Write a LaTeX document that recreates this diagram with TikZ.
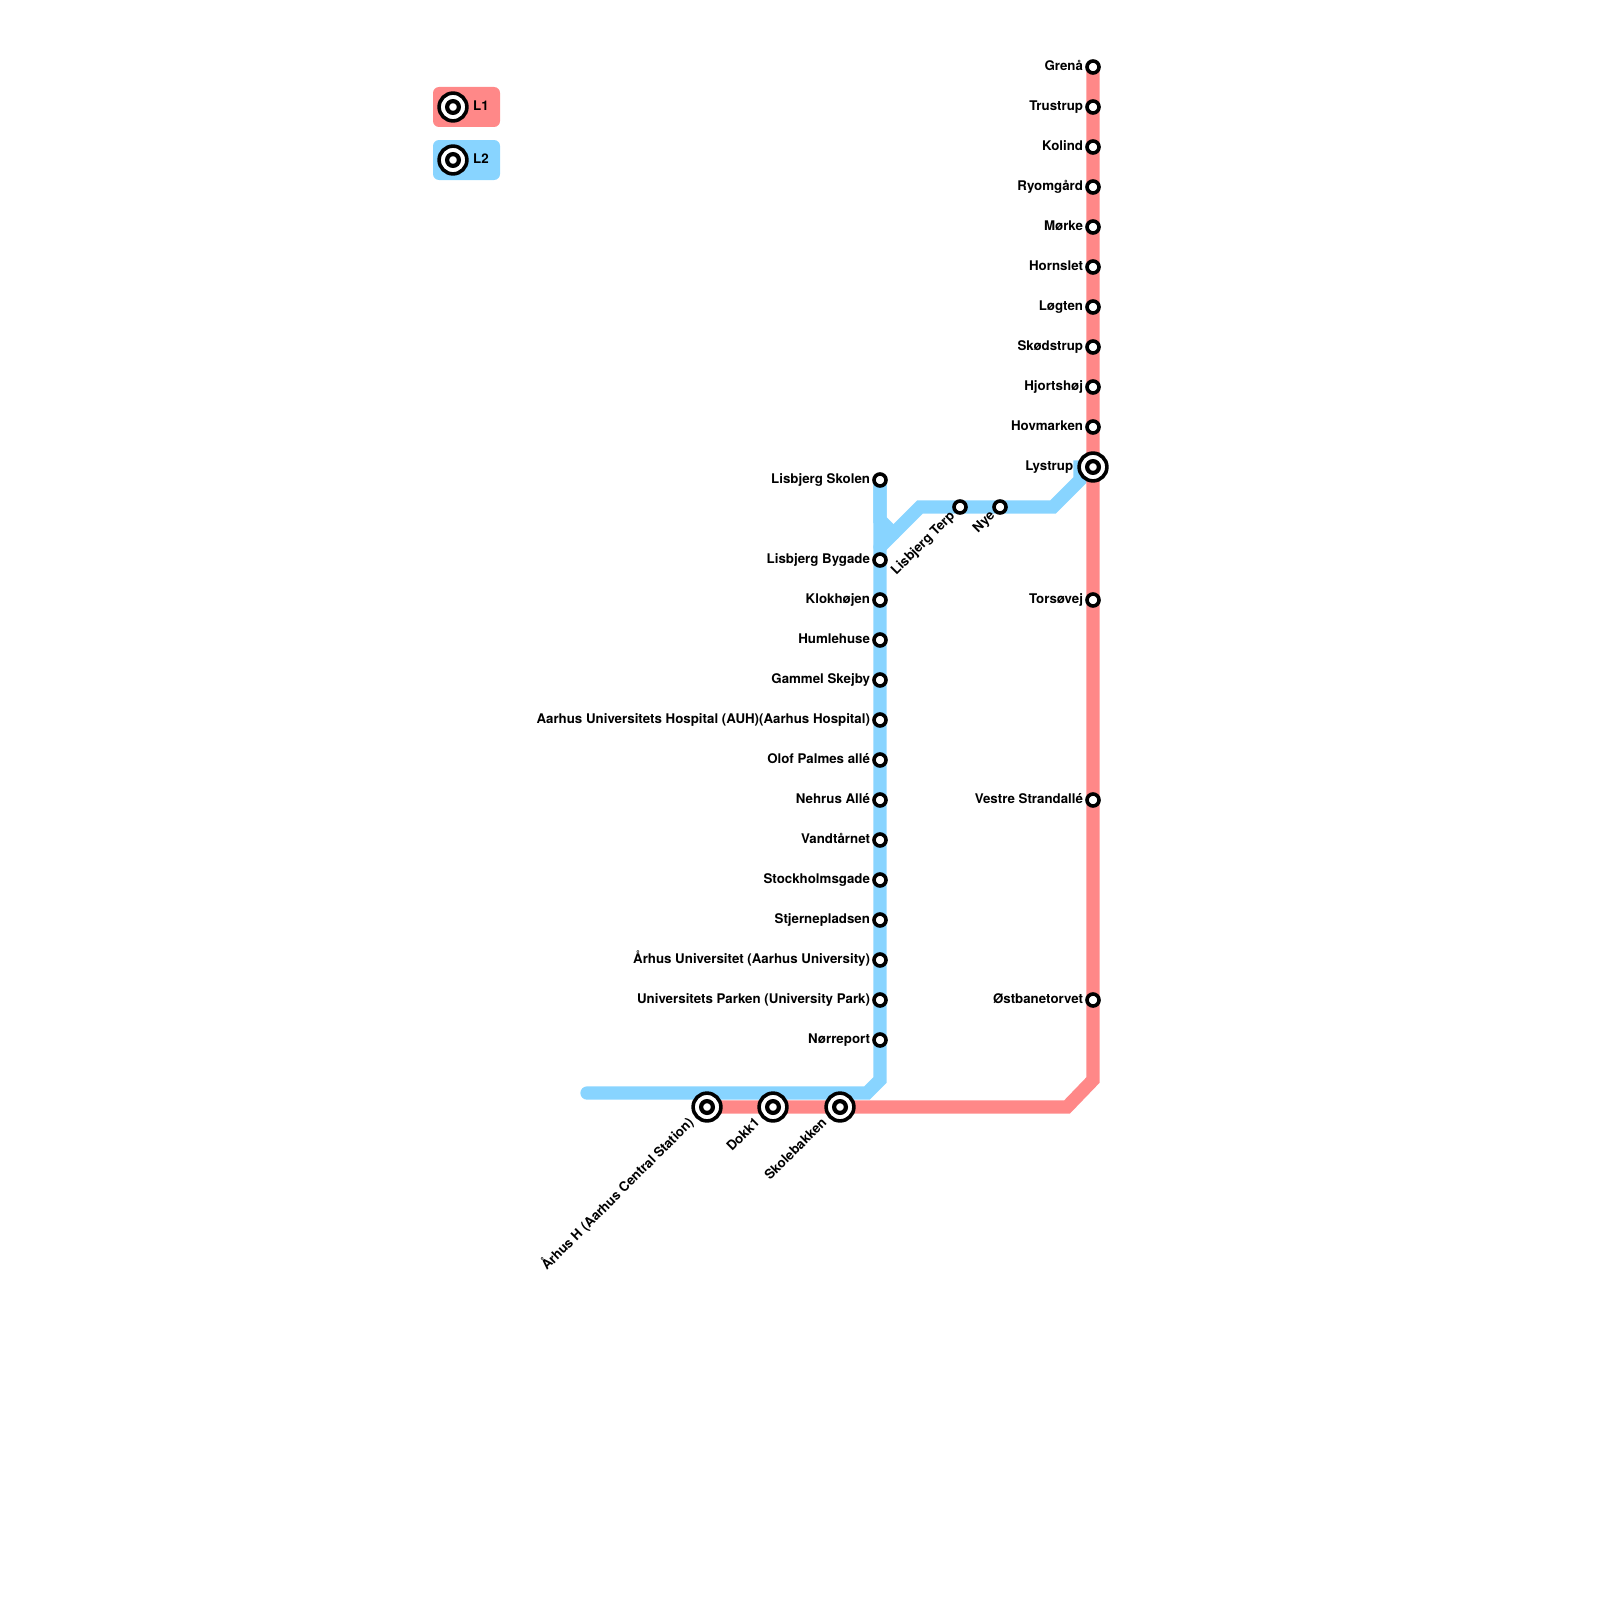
\documentclass[tikz,border=0pt]{standalone}
\usepackage{fontspec}
\setmainfont{TeX Gyre Heros}
\usepackage{tikz}
\usetikzlibrary{positioning}
\definecolor{linered}{HTML}{FF8888}
\definecolor{lineblue}{HTML}{88D4FF}

\begin{document}
\begin{tikzpicture}[x=1pt,y=-1pt,
        stn/.style={circle,draw=black,line width=3.6pt,fill=white,inner sep=0pt,minimum size=12pt},
        hub/.style={circle,draw=black,line width=3.6pt,fill=white,inner sep=0pt,minimum size=27.8pt},
        hubin/.style={circle,draw=black,line width=4.2pt,fill=white,inner sep=0pt,minimum size=11.8pt},
        lbl/.style={font=\bfseries\fontsize{13.3}{15}\selectfont,inner sep=0pt,text height=10pt,text depth=3pt,left=2pt of #1},
        lblrot/.style={font=\bfseries\fontsize{13.3}{15}\selectfont,inner sep=0pt,text height=10pt,text depth=3pt,rotate=45,anchor=east},
        legbox/.style={rounded corners=6pt,minimum width=67pt,minimum height=40pt,inner sep=0pt},
        legtxt/.style={font=\bfseries\fontsize{13.3}{15}\selectfont,inner sep=0pt},
        redline/.style={draw=linered,line width=13.3pt,line cap=round},
        blueline/.style={draw=lineblue,line width=13.3pt,line cap=round}]
        \useasboundingbox (0,0) rectangle (1600,1600);

        % legend
        \node[legbox,fill=linered]  (legred)  at (466.5,107) {};
        \node[legbox,fill=lineblue] (legblue) at (466.5,160) {};

        % bends
        \coordinate (redbendA) at (1093,1080);
        \coordinate (redbendB) at (1067,1107);
        \coordinate (bluebendA) at (880,1080);
        \coordinate (bluebendB) at (867,1093);
        \coordinate (blueend) at (587,1093);
        \coordinate (forkA) at (880,547);
        \coordinate (forkB) at (920,507);
        \coordinate (forkC) at (1053,507);
        \coordinate (forkD) at (1080,480);
        \coordinate (forkE) at (1080,467);
        \coordinate (spurA) at (880,520);
        \coordinate (spurB) at (893.5,533.5);

        % L1 stations
        \coordinate (grenapos) at (1093,67);
        \coordinate (lystruppos) at (1093,467);
        \coordinate (aarhuspos) at (707,1107);
        \coordinate (dokkpos) at (773,1107);
        \coordinate (skolepos) at (840,1107);

        % L2 line goes under L1
        \draw[blueline] (880,480) -- (spurA) -- (spurB);
        \draw[blueline] (880,480) -- (bluebendA) -- (bluebendB) -- (blueend);
        \draw[blueline] (forkA) -- (forkB) -- (forkC) -- (forkD) -- (forkE) -- (lystruppos);
        \draw[redline] (grenapos) -- (redbendA) -- (redbendB) -- (aarhuspos);

        % 1st column
        \node[stn] (grena)    at (1093,67)  {};
        \node[stn] (trustrup) at (1093,107) {};
        \node[stn] (kolind)   at (1093,147) {};
        \node[stn] (ryomgard) at (1093,187) {};
        \node[stn] (morke)    at (1093,227) {};
        \node[stn] (hornslet) at (1093,267) {};
        \node[stn] (logten)   at (1093,307) {};
        \node[stn] (skodstrup) at (1093,347) {};
        \node[stn] (hjortshoj) at (1093,387) {};
        \node[stn] (hovmarken) at (1093,427) {};
        \node[stn] (torsovej) at (1093,600) {};
        \node[stn] (vestre)   at (1093,800) {};
        \node[stn] (ostbane)  at (1093,1000) {};
        % 2nd column
        \node[stn] (lskolen)  at (880,480)  {};
        \node[stn] (lbygade)  at (880,560)  {};
        \node[stn] (klokhojen) at (880,600) {};
        \node[stn] (humlehuse) at (880,640) {};
        \node[stn] (gskejby)  at (880,680)  {};
        \node[stn] (auh)      at (880,720)  {};
        \node[stn] (olof)     at (880,760)  {};
        \node[stn] (nehrus)   at (880,800)  {};
        \node[stn] (vandtarnet) at (880,840) {};
        \node[stn] (stockholm) at (880,880) {};
        \node[stn] (stjerne)  at (880,920)  {};
        \node[stn] (auni)     at (880,960)  {};
        \node[stn] (upark)    at (880,1000) {};
        \node[stn] (norreport) at (880,1040) {};
        \node[stn] (lterp)    at (960,507)  {};
        \node[stn] (nye)      at (1000,507) {};
        % interchanges
        \node[hub] (lystrup)  at (lystruppos) {};
        \node[hub] (aarhus)   at (aarhuspos)  {};
        \node[hub] (dokk)     at (dokkpos)    {};
        \node[hub] (skole)    at (skolepos)   {};
        \node[hub] (legreds)  at (453,107)    {};
        \node[hub] (legblues) at (453,160)    {};
        \node[hubin] (lystrupin) at (lystrup)  {};
        \node[hubin] (aarhusin)  at (aarhus)   {};
        \node[hubin] (dokkin)    at (dokk)     {};
        \node[hubin] (skolein)   at (skole)    {};
        \node[hubin] (legredin)  at (legreds)  {};
        \node[hubin] (legbluein) at (legblues) {};

        \node[legtxt] (legredt)  at (481,106) {L1};
        \node[legtxt] (legbluet) at (481,159) {L2};

        % labels
        \node[lbl=grena]     (grenaL)     {Grenå};
        \node[lbl=trustrup]  (trustrupL)  {Trustrup};
        \node[lbl=kolind]    (kolindL)    {Kolind};
        \node[lbl=ryomgard]  (ryomgardL)  {Ryomgård};
        \node[lbl=morke]     (morkeL)     {Mørke};
        \node[lbl=hornslet]  (hornsletL)  {Hornslet};
        \node[lbl=logten]    (logtenL)    {Løgten};
        \node[lbl=skodstrup] (skodstrupL) {Skødstrup};
        \node[lbl=hjortshoj] (hjortshojL) {Hjortshøj};
        \node[lbl=hovmarken] (hovmarkenL) {Hovmarken};
        \node[lbl=torsovej]  (torsovejL)  {Torsøvej};
        \node[lbl=vestre]    (vestreL)    {Vestre Strandallé};
        \node[lbl=ostbane]   (ostbaneL)   {Østbanetorvet};
        \node[lbl=lskolen]   (lskolenL)   {Lisbjerg Skolen};
        \node[lbl=lbygade]   (lbygadeL)   {Lisbjerg Bygade};
        \node[lbl=klokhojen] (klokhojenL) {Klokhøjen};
        \node[lbl=humlehuse] (humlehuseL) {Humlehuse};
        \node[lbl=gskejby]   (gskejbyL)   {Gammel Skejby};
        \node[lbl=auh]       (auhL)       {Aarhus Universitets Hospital (AUH)(Aarhus Hospital)};
        \node[lbl=olof]      (olofL)      {Olof Palmes allé};
        \node[lbl=nehrus]    (nehrusL)    {Nehrus Allé};
        \node[lbl=vandtarnet] (vandtarnetL) {Vandtårnet};
        \node[lbl=stockholm] (stockholmL) {Stockholmsgade};
        \node[lbl=stjerne]   (stjerneL)   {Stjernepladsen};
        \node[lbl=auni]      (auniL)      {Århus Universitet (Aarhus University)};
        \node[lbl=upark]     (uparkL)     {Universitets Parken (University Park)};
        \node[lbl=norreport] (norreportL) {Nørreport};
        \node[lbl=lystrup,xshift=-2pt] (lystrupL) {Lystrup};

        \node[lblrot] (lterpL)  at ([shift={(-7,7)}]lterp)   {Lisbjerg Terp};
        \node[lblrot] (nyeL)    at ([shift={(-7,7)}]nye)     {Nye};
        \node[lblrot] (aarhusL) at ([shift={(-15,14)}]aarhus) {Århus H (Aarhus Central Station)};
        \node[lblrot] (dokkL)   at ([shift={(-15,14)}]dokk)   {Dokk1};
        \node[lblrot] (skoleL)  at ([shift={(-15,14)}]skole)  {Skolebakken};
\end{tikzpicture}
\end{document}
